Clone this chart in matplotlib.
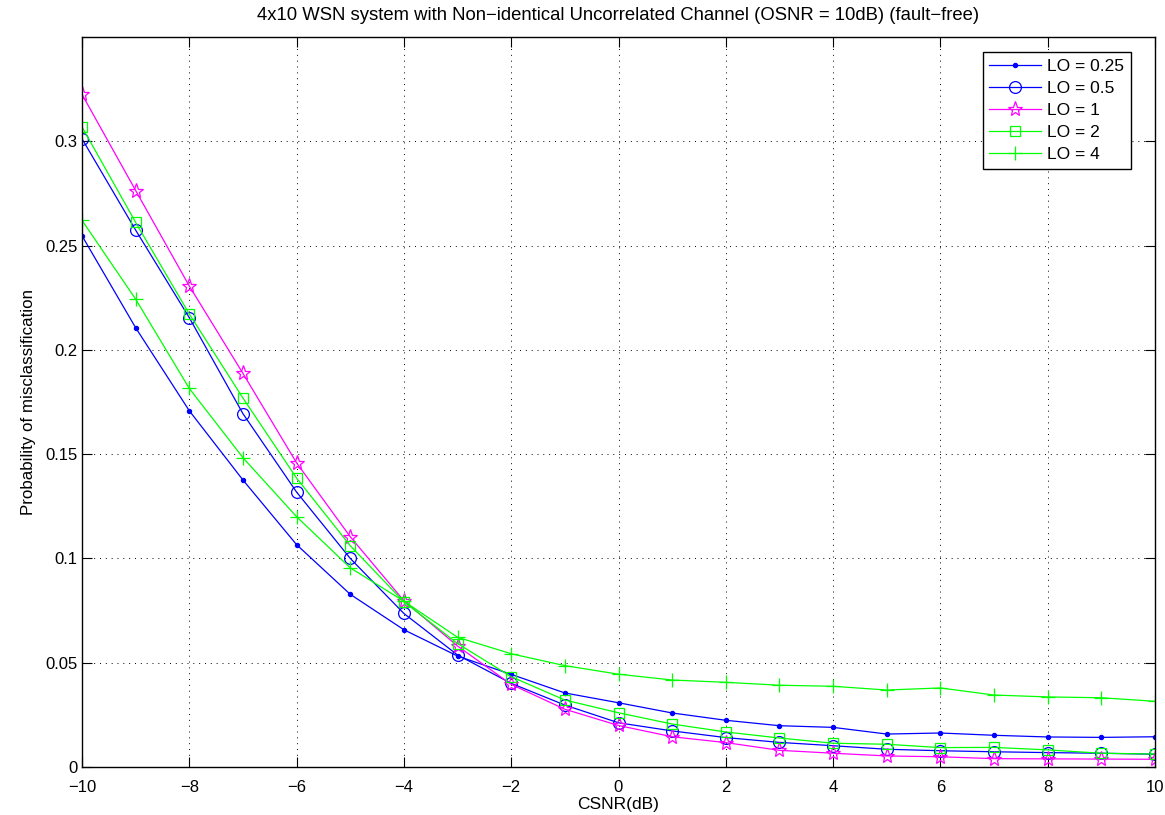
import matplotlib
matplotlib.use("Agg")
import matplotlib.pyplot as plt
import numpy as np

plt.rcParams['font.family'] = ['Liberation Sans', 'DejaVu Sans']

csnr = list(range(-10, 11))

lo_025 = [0.2547, 0.2106, 0.1708, 0.1376, 0.1066, 0.0828, 0.0658, 0.0532, 0.0444, 0.0355, 0.0308,
          0.0259, 0.0224, 0.0198, 0.0190, 0.0158, 0.0163, 0.0152, 0.0144, 0.0142, 0.0145]
lo_05 = [0.3012, 0.2574, 0.2154, 0.1694, 0.1318, 0.1000, 0.0736, 0.0537, 0.0401, 0.0297, 0.0212,
         0.0173, 0.0141, 0.0118, 0.0102, 0.0085, 0.0078, 0.0073, 0.0069, 0.0066, 0.0061]
lo_1 = [0.3225, 0.2764, 0.2306, 0.1887, 0.1458, 0.1104, 0.0797, 0.0580, 0.0396, 0.0277, 0.0199,
        0.0145, 0.0117, 0.0080, 0.0066, 0.0053, 0.0049, 0.0040, 0.0039, 0.0038, 0.0037]
lo_2 = [0.3069, 0.2611, 0.2172, 0.1769, 0.1385, 0.1061, 0.0792, 0.0592, 0.0433, 0.0321, 0.0260,
        0.0206, 0.0168, 0.0139, 0.0114, 0.0109, 0.0093, 0.0094, 0.0082, 0.0066, 0.0062]
lo_4 = [0.2621, 0.2243, 0.1815, 0.1483, 0.1200, 0.0955, 0.0795, 0.0622, 0.0543, 0.0486, 0.0445,
        0.0417, 0.0406, 0.0392, 0.0387, 0.0369, 0.0379, 0.0345, 0.0336, 0.0332, 0.0315]

labels = ['LO = 0.25', 'LO = 0.5', 'LO = 1', 'LO = 2', 'LO = 4']
xticks = [-10, -8, -6, -4, -2, 0, 2, 4, 6, 8, 10]
yticks = [0, 0.05, 0.1, 0.15, 0.2, 0.25, 0.3]
ytick_labels = ['0', '0.05', '0.1', '0.15', '0.2', '0.25', '0.3']

fig = plt.figure(figsize=(11.65, 8.15), dpi=100)
ax = fig.add_axes([82/1165, 48/815, 1073/1165, 730/815])

styles = [
    dict(color=(0, 0, 1), marker='.', markersize=6),
    dict(color=(0, 0, 1), marker='o', markersize=8.5, markerfacecolor='none'),
    dict(color=(1, 0, 1), marker='*', markersize=11, markerfacecolor='none'),
    dict(color=(0, 1, 0), marker='s', markersize=7, markerfacecolor='none'),
    dict(color=(0, 1, 0), marker='+', markersize=10),
]
for ys, lab, st in zip([lo_025, lo_05, lo_1, lo_2, lo_4], labels, styles):
    ax.plot(csnr, ys, linewidth=0.9, markeredgewidth=0.9, label=lab, **st)

ax.set_xlim(-10, 10)
ax.set_ylim(0, 0.35)
ax.set_xticks(xticks)
ax.set_xticklabels([str(t).replace('-', '\u2212') for t in xticks])
ax.set_yticks(yticks)
ax.set_yticklabels(ytick_labels)
ax.tick_params(direction='in', length=7, width=0.8, top=True, right=True, labelsize=12)
ax.tick_params(axis='x', pad=9.5)
ax.tick_params(axis='y', pad=3)
ax.grid(True, linestyle=(0, (1, 5)), color='black', linewidth=0.7)
for s in ax.spines.values():
    s.set_linewidth(1.0)

ax.set_xlabel('CSNR(dB)', fontsize=12.5, labelpad=1)
ax.set_ylabel('Probability of misclassification', fontsize=12.2, labelpad=7)
ax.set_title('4x10 WSN system with Non\u2212identical Uncorrelated Channel (OSNR = 10dB) (fault\u2212free)',
             fontsize=13.3, pad=12.5)

leg = ax.legend(loc='upper right', fontsize=12.5,
                fancybox=False, edgecolor='black', framealpha=1, handlelength=3.0,
                borderaxespad=0, labelspacing=0.4, handletextpad=0.35, borderpad=0.38,
                bbox_to_anchor=(1131/1165, 763/815), bbox_transform=fig.transFigure)
leg.get_frame().set_linewidth(1.0)

fig.savefig('out.png', dpi=100)
